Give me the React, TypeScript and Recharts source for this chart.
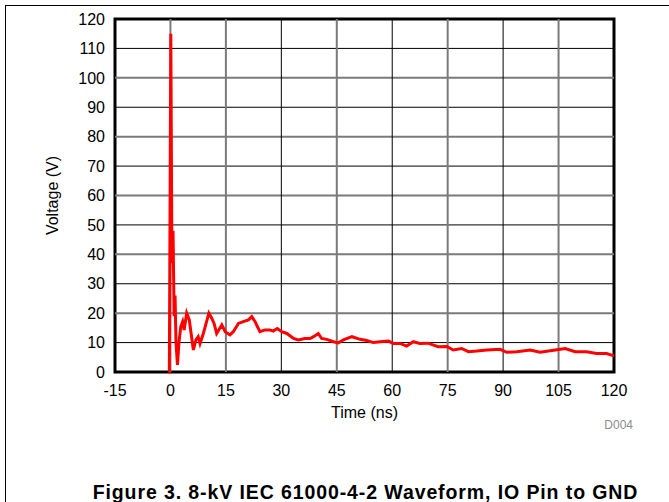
import React from "react";
import {
  LineChart,
  Line,
  XAxis,
  YAxis,
  ReferenceLine,
  ReferenceArea,
  Label,
} from "recharts";

// waveform samples
const timeNs = [
  -0.5, -0.3, 0.1, 0.4, 0.7, 1.0, 1.25, 1.5, 1.9, 2.3, 2.8, 3.3, 3.7, 4.4, 5.1,
  6.2, 6.9, 7.5, 8.0, 8.9, 10.4, 11.2, 11.8, 12.5, 13.9, 14.8, 16.1, 17.0, 18.4,
  19.7, 21.1, 22.0, 22.9, 24.2, 25.6, 26.9, 27.8, 28.9, 30.1, 31.5, 33.3, 34.6,
  36.4, 37.8, 38.7, 40.0, 40.9, 42.3, 44.1, 45.4, 46.8, 49.1, 51.3, 53.1, 54.9,
  56.7, 59.0, 60.3, 62.1, 63.9, 65.7, 67.5, 69.7, 72.4, 74.8, 76.5, 78.8, 80.6,
  82.9, 85.6, 89.2, 91.0, 93.7, 97.3, 100.0, 103.2, 106.8, 109.5, 112.6, 115.3,
  118.0, 120.0,
];
const voltage = [
  0, 0, 115, 37, 48, 19, 26, 10, 2.4, 10, 15.4, 17.1, 14.3, 20, 17.7,
  7.5, 10.9, 12, 9.7, 13.1, 20, 18.2, 16.5, 13.1, 16, 13.7, 12.6, 13.7, 16.5,
  17.1, 17.7, 18.8, 17.1, 13.7, 14.3, 14.3, 13.9, 14.8, 13.7, 13.1, 11.4, 10.9,
  11.4, 11.4, 12, 13.1, 11.4, 11.1, 10.3, 9.9, 10.9, 12, 11.1, 10.7, 10,
  10.3, 10.5, 9.7, 9.7, 8.8, 10.3, 9.7, 9.8, 8.6, 8.7, 7.5, 8, 6.9,
  7.1, 7.5, 7.7, 6.7, 6.9, 7.5, 6.7, 7.3, 8, 6.9, 6.9, 6.3,
  6.3, 5.5,
];

const xTicks = [-15, 0, 15, 30, 45, 60, 75, 90, 105, 120];
const yTicks = [0, 10, 20, 30, 40, 50, 60, 70, 80, 90, 100, 110, 120];

const data = timeNs.map((t, i) => ({ t, v: voltage[i] }));

const font = "'Liberation Sans', Arial, sans-serif";

export default function App() {
  return (
    <div
      style={{
        position: "fixed",
        left: 0,
        top: 0,
        width: 669,
        height: 502,
        overflow: "hidden",
        background: "#fff",
        fontFamily: font,
      }}
    >
      <div style={{ position: "absolute", left: 0, top: 0 }}>
        <LineChart
          width={669}
          height={502}
          data={data}
          margin={{ top: 19, right: 55, left: 55, bottom: 100 }}
        >
          <XAxis
            dataKey="t"
            type="number"
            domain={[-15, 120]}
            ticks={xTicks}
            interval={0}
            axisLine={false}
            tickLine={false}
            tick={{ fill: "#000", fontSize: 16, fontFamily: font }}
            tickMargin={7}
            height={30}
          >
            <Label
              value="Time (ns)"
              position="insideBottom"
              offset={-16}
              style={{ fill: "#000", fontSize: 16, fontFamily: font }}
            />
          </XAxis>
          <YAxis
            type="number"
            domain={[0, 120]}
            ticks={yTicks}
            interval={0}
            axisLine={false}
            tickLine={false}
            tick={{ fill: "#000", fontSize: 16, fontFamily: font }}
            tickMargin={4}
            width={60}
          >
            <Label
              value="Voltage (V)"
              angle={-90}
              position="insideLeft"
              offset={-3}
              style={{
                fill: "#000",
                fontSize: 16,
                fontFamily: font,
                textAnchor: "middle",
              }}
            />
          </YAxis>
          {yTicks.slice(1, -1).map((y, i) => (
            <ReferenceLine
              key={"h" + y}
              y={y}
              stroke={i % 2 === 0 ? "#000" : "#7a7a7a"}
              strokeWidth={i % 2 === 0 ? 1 : 2}
            />
          ))}
          {xTicks.slice(1, -1).map((x) => (
            <ReferenceLine
              key={"v" + x}
              x={x}
              stroke={x !== 0 && x % 30 === 0 ? "#000" : "#7a7a7a"}
              strokeWidth={x !== 0 && x % 30 === 0 ? 1 : 2}
            />
          ))}
          <ReferenceArea
            x1={-15}
            x2={120}
            y1={0}
            y2={120}
            fill="none"
            stroke="#000"
            strokeWidth={3}
            ifOverflow="visible"
          />
          <Line
            type="linear"
            dataKey="v"
            stroke="#ff0000"
            strokeWidth={3}
            dot={false}
            isAnimationActive={false}
          />
        </LineChart>
      </div>
      <div
        style={{
          position: "absolute",
          left: 5,
          top: 5,
          width: 800,
          height: 800,
          borderTop: "1px solid #000",
          borderLeft: "1px solid #000",
          pointerEvents: "none",
        }}
      />
      <div
        style={{
          position: "absolute",
          right: 36,
          top: 418,
          fontSize: 12,
          color: "#8c8c8c",
        }}
      >
        D004
      </div>
      <div
        style={{
          position: "absolute",
          left: 0,
          width: 731,
          top: 483,
          lineHeight: 1,
          textAlign: "center",
          fontSize: 19.5,
          letterSpacing: 0.9,
          fontWeight: "bold",
          whiteSpace: "nowrap",
        }}
      >
        Figure 3. 8-kV IEC 61000-4-2 Waveform, IO Pin to GND
      </div>
    </div>
  );
}
